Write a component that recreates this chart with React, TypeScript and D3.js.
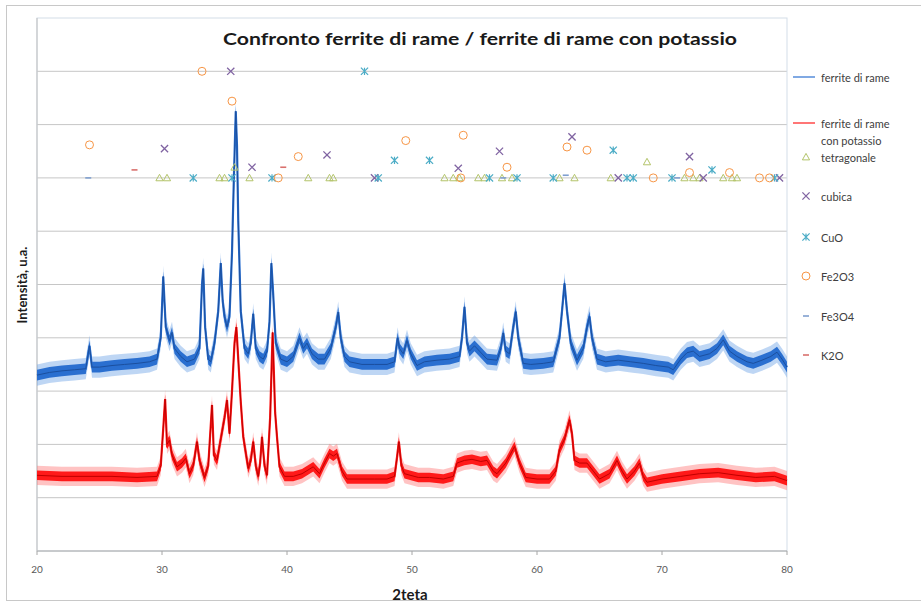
import React from "react";
import * as d3 from "d3";

// ---------- DATA ----------
const TITLE = "Confronto ferrite di rame / ferrite di rame con potassio";
const X_LABEL = "2teta";
const Y_LABEL = "Intensità, u.a.";
const X_TICKS = [20, 30, 40, 50, 60, 70, 80];
const Y_GRID = [100, 200, 300, 400, 500, 600, 700, 800, 900];

const SERIES_NAMES = ["ferrite di rame", "ferrite di rame con potassio"];
const REF_NAMES = ["tetragonale", "cubica", "CuO", "Fe2O3", "Fe3O4", "K2O"];

// blue: ferrite di rame  [2theta, intensity]
const ferriteRame: [number, number][] = [
  [20.0, 330], [21, 335], [22, 338], [23, 340], [23.9, 342], [24.2, 385], [24.4, 345], [25, 345],
  [26, 348], [27, 350], [28, 352], [29, 355], [29.6, 360], [29.9, 400], [30.1, 515], [30.3, 420],
  [30.6, 395], [30.8, 410], [31.0, 380], [31.5, 365], [32.0, 355], [32.6, 360], [33.0, 380],
  [33.2, 500], [33.3, 530], [33.45, 420], [33.7, 360], [33.9, 355], [34.2, 390], [34.5, 450],
  [34.7, 540], [34.85, 470], [35.0, 440], [35.2, 420], [35.4, 440], [35.6, 560], [35.75, 700],
  [35.9, 825], [36.0, 760], [36.1, 620], [36.3, 450], [36.6, 380], [36.9, 370], [37.1, 390],
  [37.3, 445], [37.5, 380], [37.8, 365], [38.1, 360], [38.4, 375], [38.6, 430], [38.75, 540],
  [38.9, 480], [39.1, 390], [39.5, 360], [40.0, 355], [40.5, 365], [41.0, 400], [41.3, 380],
  [41.6, 390], [42.0, 370], [42.5, 360], [43.0, 360], [43.5, 380], [43.9, 420], [44.1, 448],
  [44.3, 400], [44.6, 365], [45.0, 355], [46, 350], [47, 350], [48, 350], [48.6, 355],
  [48.85, 400], [49.0, 380], [49.3, 370], [49.6, 395], [49.9, 370], [50.4, 348], [51, 355],
  [52, 358], [53, 360], [53.8, 365], [54.0, 400], [54.2, 458], [54.4, 390], [54.6, 375],
  [55.0, 385], [55.4, 375], [56.0, 360], [56.8, 358], [57.1, 380], [57.3, 409], [57.5, 375],
  [57.8, 370], [58.1, 420], [58.3, 449], [58.5, 400], [58.9, 352], [59.5, 350], [60.5, 352],
  [61.3, 355], [61.8, 400], [62.0, 450], [62.2, 502], [62.4, 450], [62.7, 390], [63.2, 358],
  [63.7, 380], [64.0, 420], [64.2, 440], [64.4, 400], [64.8, 360], [65.5, 355], [66.5, 358],
  [67.5, 355], [68.5, 352], [69.5, 348], [70.5, 345], [70.9, 340], [71.5, 360], [72.0, 372],
  [72.5, 375], [73.0, 365], [73.8, 370], [74.4, 380], [74.9, 396], [75.4, 375], [76.0, 365],
  [76.8, 355], [77.3, 352], [78.0, 358], [78.7, 365], [79.2, 373], [79.6, 360], [80.0, 345],
];

// red: ferrite di rame con potassio
const ferriteRameK: [number, number][] = [
  [20, 142], [22, 140], [24, 140], [26, 140], [28, 138], [29.6, 140], [29.9, 160], [30.1, 230],
  [30.25, 285], [30.4, 200], [30.6, 208], [30.8, 180], [31.2, 158], [31.6, 165], [31.9, 174],
  [32.2, 145], [32.5, 160], [32.8, 205], [33.0, 170], [33.4, 138], [33.7, 160], [34.0, 274],
  [34.15, 180], [34.4, 170], [34.7, 210], [35.0, 250], [35.2, 283], [35.4, 220], [35.6, 300],
  [35.8, 390], [35.95, 420], [36.1, 360], [36.3, 280], [36.5, 214], [36.9, 155], [37.1, 170],
  [37.3, 205], [37.5, 160], [37.7, 140], [37.85, 165], [38.0, 214], [38.2, 160], [38.4, 142],
  [38.65, 250], [38.85, 410], [39.05, 260], [39.2, 214], [39.4, 158], [39.8, 140], [40.5, 140],
  [41.2, 145], [42.1, 158], [42.6, 145], [43.0, 165], [43.4, 183], [43.7, 178], [44.0, 183],
  [44.4, 150], [44.8, 135], [46, 135], [47, 135], [48, 135], [48.6, 140], [48.8, 175],
  [48.95, 205], [49.15, 160], [49.4, 145], [50.5, 138], [51.4, 138], [52.5, 135], [53.3, 140],
  [53.6, 165], [54.2, 170], [54.8, 172], [55.5, 168], [56.0, 170], [56.5, 150], [56.8, 145],
  [57.5, 165], [58.2, 196], [58.6, 165], [59.1, 138], [60, 135], [61.0, 135], [61.5, 150],
  [61.8, 190], [62.2, 210], [62.6, 246], [62.8, 220], [63.0, 170], [63.4, 165], [64.0, 165],
  [64.5, 150], [65.0, 135], [65.8, 145], [66.4, 170], [66.8, 150], [67.2, 135], [67.8, 150],
  [68.2, 165], [68.5, 140], [68.8, 129], [70, 135], [71.5, 140], [73, 145], [74.5, 147],
  [76, 142], [77.5, 138], [79, 140], [80, 132],
];

// reference reflections [2theta, marker level]
const tetragonale: [number, number][] = [
  [29.8, 700], [30.4, 700], [34.6, 700], [35.0, 700], [35.8, 720], [37.0, 700], [41.7, 700],
  [43.4, 700], [43.7, 700], [52.6, 700], [53.3, 700], [53.8, 700], [55.3, 700], [55.8, 700],
  [57.2, 700], [58.0, 700], [61.8, 700], [63.0, 700], [65.9, 700], [68.8, 730], [71.8, 700],
  [72.5, 700], [73.0, 700], [74.9, 700], [75.6, 700], [76.0, 700],
];
const cubica: [number, number][] = [
  [30.2, 755], [35.5, 900], [37.2, 720], [43.2, 743], [47.0, 700], [53.7, 718], [57.0, 750],
  [62.8, 777], [66.5, 700], [72.2, 740], [73.3, 700], [79.4, 700],
];
const cuo: [number, number][] = [
  [32.5, 700], [35.6, 700], [38.8, 700], [46.2, 900], [47.3, 700], [48.6, 733], [51.4, 733],
  [56.2, 700], [58.4, 700], [61.3, 700], [66.1, 752], [67.2, 700], [67.7, 700], [70.8, 700],
  [74.0, 715], [79.0, 700],
];
const fe2o3: [number, number][] = [
  [24.2, 762], [33.2, 900], [35.6, 844], [39.3, 700], [40.9, 740], [49.5, 770], [53.9, 700],
  [54.1, 780], [57.6, 720], [62.4, 758], [64.0, 752], [69.3, 700], [72.2, 710], [75.4, 710],
  [77.8, 700], [78.6, 700],
];
const fe3o4: [number, number][] = [[24.1, 700], [57.3, 700], [62.3, 705], [71.2, 700]];
const k2o: [number, number][] = [[27.8, 715], [39.7, 720]];

// ---------- LAYOUT / STYLE ----------
const W = 921, H = 603;
const M = { left: 37, right: 787, top: 18, bottom: 551 };
const FONT = "Lato, 'Open Sans', sans-serif";
const BLUE = "#2a6fd0", BLUE_DARK = "#1b4f9e", BLUE_LIGHT = "#6fa3e6";
const RED = "#ff1a1a", RED_DARK = "#c00000", RED_LIGHT = "#ff7a7a";
const REF_COLORS = ["#b3c46a", "#8064a2", "#4bacc6", "#f79646", "#7f9fcf", "#d9706d"];

const x = d3.scaleLinear().domain([20, 80]).range([M.left, M.right]);
const y = d3.scaleLinear().domain([0, 1000]).range([M.bottom, M.top]);

function Marker({ kind, cx, cy, color }: { kind: number; cx: number; cy: number; color: string }) {
  const s = 3.6;
  if (kind === 0) {
    return <path d={`M${cx},${cy - s}L${cx + s},${cy + s * 0.8}L${cx - s},${cy + s * 0.8}Z`} fill="none" stroke={color} strokeWidth={1} />;
  }
  if (kind === 1) {
    return <path d={`M${cx - s},${cy - s}L${cx + s},${cy + s}M${cx - s},${cy + s}L${cx + s},${cy - s}`} stroke={color} strokeWidth={1.3} />;
  }
  if (kind === 2) {
    return <path d={`M${cx - s},${cy - s}L${cx + s},${cy + s}M${cx - s},${cy + s}L${cx + s},${cy - s}M${cx},${cy - s}L${cx},${cy + s}`} stroke={color} strokeWidth={1.2} />;
  }
  if (kind === 3) {
    return <circle cx={cx} cy={cy} r={4} fill="none" stroke={color} strokeWidth={1} />;
  }
  return <path d={`M${cx - 3},${cy}L${cx + 3},${cy}`} stroke={color} strokeWidth={1.6} />;
}

function Spectrum({ data, light, mid, dark, band }: { data: [number, number][]; light: string; mid: string; dark: string; band: number }) {
  const area = (h: number) =>
    d3.area<[number, number]>().x(d => x(d[0])).y0(d => y(d[1] - h)).y1(d => y(d[1] + h))(data) || "";
  const line = d3.line<[number, number]>().x(d => x(d[0])).y(d => y(d[1]))(data) || "";
  return (
    <g>
      <path d={area(band)} fill={light} opacity={0.45} />
      <path d={area(band * 0.5)} fill={mid} />
      <path d={line} fill="none" stroke={mid} strokeWidth={2.2} />
      <path d={line} fill="none" stroke={dark} strokeWidth={1} />
    </g>
  );
}

export default function App() {
  const refs = [tetragonale, cubica, cuo, fe2o3, fe3o4, k2o];
  const legendMarkerY = [157, 196, 237, 276, 316, 355];
  return (
    <div style={{ position: "absolute", left: 0, top: 0 }}>
      <svg width={W} height={H} style={{ display: "block", background: "#fff" }}>
        <rect x={6.5} y={5.5} width={W} height={595} fill="#fff" stroke="#c8c8c8" />
        {/* gridlines */}
        {Y_GRID.map(v => (
          <line key={v} x1={M.left} x2={M.right} y1={y(v)} y2={y(v)} stroke="#c6c6c6" strokeWidth={1} />
        ))}
        <rect x={M.left} y={M.top} width={M.right - M.left} height={M.bottom - M.top} fill="none" stroke="#d3dde8" />
        {/* x axis */}
        <line x1={M.left} x2={M.right} y1={M.bottom} y2={M.bottom} stroke="#a6a6a6" />
        {X_TICKS.map(t => (
          <g key={t}>
            <line x1={x(t)} x2={x(t)} y1={M.bottom} y2={M.bottom + 4} stroke="#a6a6a6" />
            <text x={x(t)} y={569} fontSize={10} fill="#595959" textAnchor="middle" dominantBaseline="central" fontFamily={FONT}>{t}</text>
          </g>
        ))}
        <line x1={M.left} x2={M.left} y1={M.top} y2={M.bottom} stroke="#bfbfbf" />
        {/* spectra */}
        <Spectrum data={ferriteRame} light={BLUE_LIGHT} mid={BLUE} dark={BLUE_DARK} band={20} />
        <Spectrum data={ferriteRameK} light={RED_LIGHT} mid={RED} dark={RED_DARK} band={18} />
        {/* reference markers */}
        {refs.map((arr, k) =>
          arr.map((d, i) => <Marker key={k + "-" + i} kind={k === 5 ? 4 : k} cx={x(d[0])} cy={y(d[1])} color={REF_COLORS[k]} />)
        )}
        {/* title & labels */}
        <text x={480} y={38} fontSize={17} fontWeight="bold" textAnchor="middle" dominantBaseline="central" fontFamily={FONT} fill="#1a1a1a" textLength={514} lengthAdjust="spacingAndGlyphs">{TITLE}</text>
        <text x={410} y={594} fontSize={15} fontWeight="bold" textAnchor="middle" dominantBaseline="central" fontFamily={FONT} fill="#1a1a1a">{X_LABEL}</text>
        <text transform={`translate(22,${285}) rotate(-90)`} fontSize={13} fontWeight="bold" textAnchor="middle" dominantBaseline="central" fontFamily={FONT} fill="#1a1a1a">{Y_LABEL}</text>
        {/* legend */}
        <line x1={793} x2={815} y1={77} y2={77} stroke={BLUE} strokeWidth={1.2} />
        <text x={821} y={77} fontSize={11} fill="#404040" dominantBaseline="central" fontFamily={FONT}>{SERIES_NAMES[0]}</text>
        <line x1={793} x2={815} y1={123} y2={123} stroke={RED} strokeWidth={1.2} />
        <text x={821} y={123} fontSize={11} fill="#404040" dominantBaseline="central" fontFamily={FONT}>ferrite di rame</text>
        <text x={821} y={140} fontSize={11} fill="#404040" dominantBaseline="central" fontFamily={FONT}>con potassio</text>
        {REF_NAMES.map((n, k) => (
          <g key={n}>
            <Marker kind={k === 5 ? 4 : k} cx={806} cy={legendMarkerY[k]} color={REF_COLORS[k]} />
            <text x={821} y={legendMarkerY[k]} fontSize={11} fill="#404040" dominantBaseline="central" fontFamily={FONT}>{n}</text>
          </g>
        ))}
      </svg>
    </div>
  );
}
